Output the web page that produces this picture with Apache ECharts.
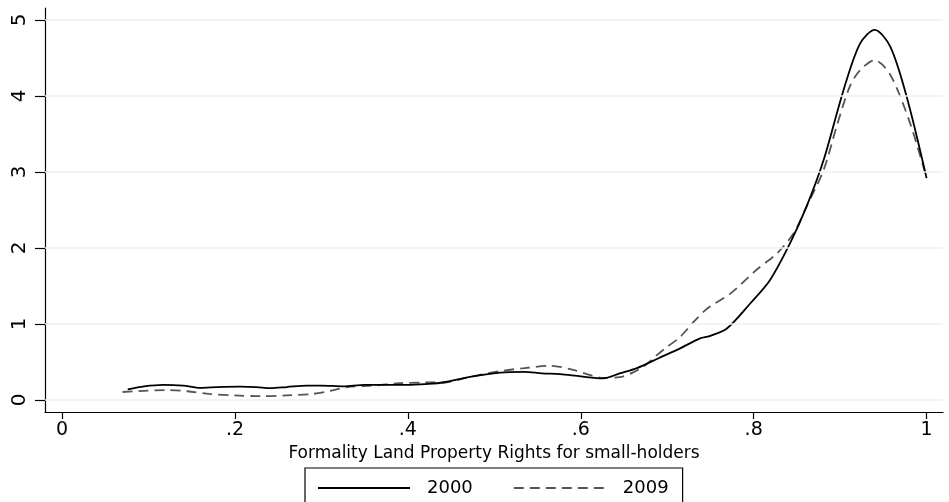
<!DOCTYPE html>
<html><head><meta charset="utf-8">
<script src="https://cdn.jsdelivr.net/npm/echarts@6/dist/echarts.min.js"></script>
<style>html,body{margin:0;padding:0;background:#fff}#c{width:949px;height:502px}</style>
</head><body><div id="c"></div>
<script>
const xTicks = [0, 0.2, 0.4, 0.6, 0.8, 1];
const xTickLabels = ['0', '.2', '.4', '.6', '.8', '1'];
const yTicks = [0, 1, 2, 3, 4, 5];
const xTitle = 'Formality Land Property Rights for small-holders';
const seriesNames = ['2000', '2009'];
const density2000 = [[0.076,0.14],[0.095,0.18],[0.117,0.2],[0.14,0.19],[0.16,0.16],[0.18,0.17],[0.206,0.175],[0.225,0.17],[0.241,0.155],[0.26,0.17],[0.283,0.19],[0.30,0.19],[0.325,0.18],[0.35,0.2],[0.375,0.2],[0.40,0.2],[0.42,0.21],[0.441,0.23],[0.47,0.3],[0.507,0.36],[0.535,0.37],[0.555,0.35],[0.576,0.34],[0.60,0.31],[0.626,0.285],[0.645,0.35],[0.665,0.42],[0.69,0.55],[0.715,0.68],[0.738,0.81],[0.749,0.84],[0.769,0.94],[0.796,1.27],[0.819,1.58],[0.842,2.06],[0.861,2.54],[0.881,3.16],[0.904,4.08],[0.923,4.69],[0.94,4.87],[0.958,4.65],[0.977,3.99],[1.0,2.92]];
const density2009 = [[0.07,0.105],[0.095,0.12],[0.12,0.13],[0.145,0.115],[0.17,0.08],[0.2,0.06],[0.23,0.05],[0.26,0.06],[0.29,0.08],[0.31,0.12],[0.33,0.17],[0.36,0.19],[0.39,0.22],[0.42,0.23],[0.441,0.23],[0.47,0.3],[0.507,0.38],[0.535,0.42],[0.565,0.45],[0.59,0.4],[0.61,0.33],[0.626,0.29],[0.645,0.3],[0.66,0.36],[0.675,0.46],[0.688,0.59],[0.70,0.7],[0.715,0.83],[0.73,1.02],[0.746,1.2],[0.773,1.40],[0.803,1.71],[0.827,1.93],[0.846,2.19],[0.861,2.54],[0.881,3.03],[0.896,3.6],[0.911,4.12],[0.923,4.34],[0.94,4.47],[0.958,4.28],[0.981,3.64],[1.0,2.92]];

const FONT = 'DejaVu Sans, Liberation Sans, sans-serif';
const chart = echarts.init(document.getElementById('c'), null, {renderer: 'canvas'});
chart.setOption({
  animation: false,
  backgroundColor: '#fff',
  grid: {left: 45, right: 6, top: 8, bottom: 90, containLabel: false},
  xAxis: {
    type: 'value', min: -0.0197, max: 1.019,
    name: xTitle, nameLocation: 'middle', nameGap: 30,
    nameTextStyle: {fontFamily: FONT, fontSize: 17, color: '#000'},
    axisLine: {show: true, onZero: false, lineStyle: {color: '#000', width: 1.2}},
    axisTick: {show: true, length: 7, customValues: xTicks, lineStyle: {color: '#000', width: 1.2}},
    axisLabel: {customValues: xTicks, margin: 9, fontFamily: FONT, fontSize: 19, color: '#000',
      formatter: v => { const i = xTicks.findIndex(t => Math.abs(t - v) < 1e-9); return i >= 0 ? xTickLabels[i] : ''; }},
    splitLine: {show: false}
  },
  yAxis: {
    type: 'value', min: -0.158, max: 5.158,
    axisLine: {show: true, onZero: false, lineStyle: {color: '#000', width: 1.2}},
    axisTick: {show: true, length: 10, customValues: yTicks, lineStyle: {color: '#000', width: 1.2}},
    axisLabel: {customValues: yTicks, rotate: 90, margin: 15, fontFamily: FONT, fontSize: 20, color: '#000',
      formatter: v => String(Math.round(v))},
    splitLine: {show: false}
  },
  legend: {
    left: 305, top: 468, orient: 'horizontal',
    itemWidth: 92, itemHeight: 14, itemGap: 40,
    padding: [11, 14, 30, 12],
    borderColor: '#000', borderWidth: 1.2, borderRadius: 0,
    itemStyle: {opacity: 0},
    textStyle: {fontFamily: FONT, fontSize: 18, color: '#000', padding: [0, 0, 0, 12]},
    data: seriesNames
  },
  series: [
    {
      name: seriesNames[0], type: 'line', data: density2000, showSymbol: false, symbol: 'none',
      smooth: 0.3, lineStyle: {color: '#000', width: 1.8, type: 'solid'}, itemStyle: {color: '#000'},
      z: 3,
      markLine: {
        silent: true, symbol: 'none', label: {show: false},
        lineStyle: {color: '#eaf2f3', width: 1.5, type: 'solid'},
        data: yTicks.map(v => ({yAxis: v}))
      }
    },
    {
      name: seriesNames[1], type: 'line', data: density2009, showSymbol: false, symbol: 'none',
      smooth: 0.3, lineStyle: {color: '#555', width: 1.8, type: [10, 6]}, itemStyle: {color: '#555'},
      z: 2
    }
  ]
});
</script></body></html>
